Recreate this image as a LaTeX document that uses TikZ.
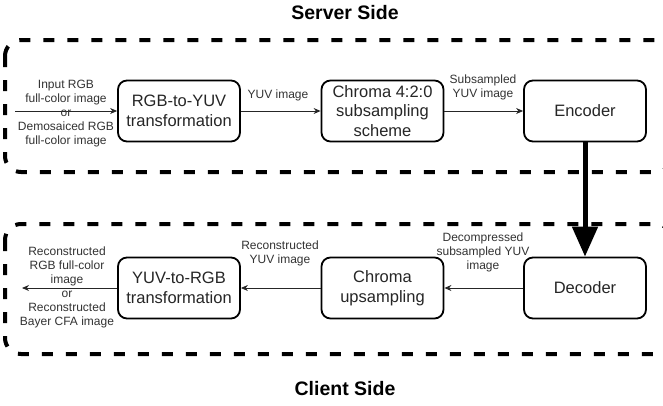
\documentclass[tikz,border=0pt]{standalone}
\usepackage{fontspec}
\setmainfont{Liberation Sans}
\usetikzlibrary{arrows.meta}
\begin{document}
\begin{tikzpicture}[x=1pt,y=-1pt,
  proc/.style={draw, line width=1.8pt, rounded corners=9pt, minimum width=122pt, minimum height=61pt, align=center, font=\fontsize{16.5}{19.5}\selectfont, text=black!85, inner sep=0pt},
  lbl/.style={align=center, font=\fontsize{12}{14}\selectfont, text=black!80, inner sep=0pt},
  flow/.style={line width=0.9pt, draw=black!85, -{Stealth[length=7pt,width=6pt]}},
  region/.style={draw, line width=4pt, dash pattern=on 11pt off 13pt, rounded corners=16pt},
  titletext/.style={font=\fontsize{19.5}{22}\selectfont\bfseries}]
\useasboundingbox (0,0) rectangle (663,405);
\fill[white] (0,0) rectangle (663,405);
% regions
\draw[region] (5,40) rectangle (672,172);
\draw[region] (5,224) rectangle (672,354);
\node[titletext] (srv) at (345,13) {Server Side};
\node[titletext] (cli) at (345,389) {Client Side};
% process boxes
\node[proc] (rgb2yuv) at (179,111) {RGB-to-YUV\\transformation};
\node[proc] (chroma) at (382.5,111) {Chroma 4:2:0\\subsampling\\scheme};
\node[proc] (enc) at (585,111) {Encoder};
\node[proc] (dec) at (585,288) {Decoder};
\node[proc] (up) at (382.5,288) {Chroma\\upsampling};
\node[proc] (yuv2rgb) at (179,288) {YUV-to-RGB\\transformation};
\coordinate (in) at (15,111);
\coordinate (out) at (22,288);
% connectors
\draw[flow] (in) -- (rgb2yuv);
\draw[flow] (rgb2yuv) -- (chroma);
\draw[flow] (chroma) -- (enc);
\draw[line width=5pt, -{Triangle[length=30pt,width=25pt]}] (enc) -- (dec);
\draw[flow] (dec) -- (up);
\draw[flow] (up) -- (yuv2rgb);
\draw[flow] (yuv2rgb) -- (out);
% labels
\node[lbl] (lin) at (66,114) {Input RGB\\full-color image\\or\\Demosaiced RGB\\full-color image};
\node[lbl] (l1) at (278,95) {YUV image};
\node[lbl] (l2) at (483,87) {Subsampled\\YUV image};
\node[lbl] (l3) at (483,252) {Decompressed\\subsampled YUV\\image};
\node[lbl] (l4) at (280,253) {Reconstructed\\YUV image};
\node[lbl] (lout) at (67,287) {Reconstructed\\RGB full-color\\image\\or\\Reconstructed\\Bayer CFA image};
\end{tikzpicture}
\end{document}
